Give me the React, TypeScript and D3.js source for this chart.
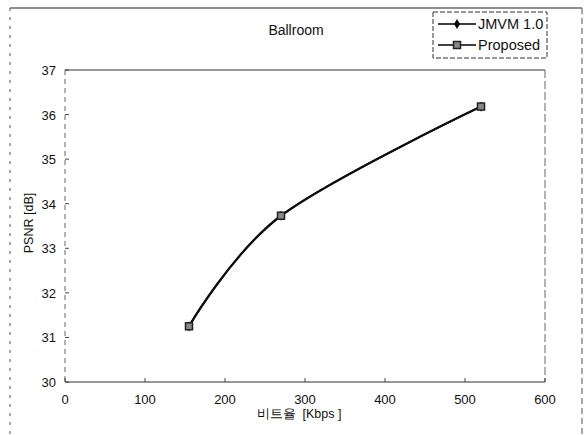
import React from "react";
import * as d3 from "d3";

const bitrates = [155, 270, 520];
const jmvm = [31.25, 33.73, 36.18];
const proposed = [31.25, 33.73, 36.18];
const xTicks = [0, 100, 200, 300, 400, 500, 600];
const yTicks = [30, 31, 32, 33, 34, 35, 36, 37];
const seriesNames = ["JMVM 1.0", "Proposed"];
const title = "Ballroom";
const xTitle = "비트율  [Kbps ]";
const yTitle = "PSNR [dB]";

const W = 585;
const H = 435;
const L = 65, R = 545, T = 70, B = 382;
const FONT = "'Liberation Sans', Arial, sans-serif";

export default function App() {
  const x = d3.scaleLinear().domain([0, 600]).range([L, R]);
  const y = d3.scaleLinear().domain([30, 37]).range([B, T]);
  const line = d3
    .line<number>()
    .x((_, i) => x(bitrates[i]))
    .y((d) => y(d))
    .curve(d3.curveCardinal.tension(0));
  const sq = 3.5;
  return (
    <svg
      width={W}
      height={H}
      style={{ position: "absolute", left: 0, top: 0, background: "#fff" }}
      fontFamily={FONT}
    >
      {/* outer frame */}
      <line x1={10} y1={8} x2={582} y2={8} stroke="#222" strokeWidth={1} />
      <line x1={10} y1={8} x2={10} y2={435} stroke="#555" strokeWidth={1} strokeDasharray="3 6" />
      <line x1={582} y1={8} x2={582} y2={435} stroke="#555" strokeWidth={1} strokeDasharray="6 4" />

      {/* title */}
      <text x={296} y={35} fontSize={14} textAnchor="middle" fill="#111">
        {title}
      </text>

      {/* plot frame */}
      <line x1={L} y1={T} x2={R} y2={T} stroke="#333" strokeWidth={1.2} />
      <line x1={L} y1={B} x2={R} y2={B} stroke="#333" strokeWidth={1.2} />
      <line x1={L} y1={T} x2={L} y2={B} stroke="#666" strokeWidth={1} strokeDasharray="5 4" />
      <line x1={R} y1={T} x2={R} y2={B} stroke="#666" strokeWidth={1} strokeDasharray="8 3" />

      {/* y ticks */}
      {yTicks.map((t) => (
        <g key={"y" + t}>
          <line x1={L} x2={L + 4} y1={y(t)} y2={y(t)} stroke="#444" />
          <text x={56} y={y(t) + 5} fontSize={13} textAnchor="end" fill="#111">
            {t}
          </text>
        </g>
      ))}
      {/* x ticks */}
      {xTicks.map((t) => (
        <g key={"x" + t}>
          <line x1={x(t)} x2={x(t)} y1={B} y2={B - 4} stroke="#444" />
          <text x={x(t)} y={404} fontSize={13} textAnchor="middle" fill="#111">
            {t}
          </text>
        </g>
      ))}

      {/* axis titles */}
      <text x={299} y={418} fontSize={12.5} textAnchor="middle" fill="#111" style={{ whiteSpace: "pre" }}>
        {xTitle}
      </text>
      <text
        transform={`translate(33, 223) rotate(-90)`}
        fontSize={12.5}
        textAnchor="middle"
        fill="#111"
      >
        {yTitle}
      </text>

      {/* series */}
      <path d={line(jmvm) || ""} fill="none" stroke="#000" strokeWidth={2.2} />
      {jmvm.map((v, i) => (
        <path
          key={"j" + i}
          d={d3.symbol(d3.symbolDiamond, 30)() || ""}
          transform={`translate(${x(bitrates[i])},${y(v)})`}
          fill="#000"
        />
      ))}
      <path d={line(proposed) || ""} fill="none" stroke="#111" strokeWidth={1.6} />
      {proposed.map((v, i) => (
        <rect
          key={"p" + i}
          x={x(bitrates[i]) - sq}
          y={y(v) - sq}
          width={sq * 2}
          height={sq * 2}
          fill="#888"
          stroke="#222"
          strokeWidth={1.5}
        />
      ))}

      {/* legend */}
      <rect x={433} y={12} width={114} height={46} fill="#fff" stroke="#333" strokeWidth={1} strokeDasharray="5 2" />
      <line x1={438} x2={476} y1={24} y2={24} stroke="#000" strokeWidth={1.5} />
      <path d={d3.symbol(d3.symbolDiamond, 30)() || ""} transform="translate(457,24)" fill="#000" />
      <text x={478} y={29} fontSize={14.5} fill="#111">
        {seriesNames[0]}
      </text>
      <line x1={438} x2={476} y1={45} y2={45} stroke="#000" strokeWidth={1.5} />
      <rect x={457 - sq} y={45 - sq} width={sq * 2} height={sq * 2} fill="#888" stroke="#222" strokeWidth={1.5} />
      <text x={478} y={50} fontSize={14.5} fill="#111">
        {seriesNames[1]}
      </text>
    </svg>
  );
}
